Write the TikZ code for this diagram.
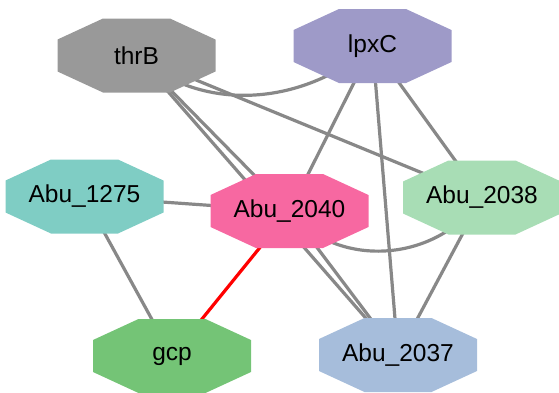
\documentclass[tikz,border=0pt]{standalone}
\usepackage{fontspec}
\setmainfont{Liberation Sans}
\usetikzlibrary{backgrounds}
\definecolor{cthrB}{HTML}{999999}
\definecolor{clpxC}{HTML}{9E9AC8}
\definecolor{cA1275}{HTML}{7FCDC4}
\definecolor{cA2040}{HTML}{F768A1}
\definecolor{cA2038}{HTML}{A8DDB5}
\definecolor{cA2037}{HTML}{A6BDDB}
\definecolor{cgcp}{HTML}{74C476}
\definecolor{cedge}{HTML}{888888}
\newcommand\octnode[5]{%
  \begin{scope}[shift={(#2,#3)}]
    \fill[#4] (-33.5,-37) -- (33.5,-37) -- (79,-16) -- (79,16) -- (33.5,37) -- (-33.5,37) -- (-79,16) -- (-79,-16) -- cycle;
  \end{scope}
  \node[lbl] (#1) at (#2,#3) {#5};}
\begin{document}
\begin{tikzpicture}[x=1pt,y=-1pt,
  lbl/.style={inner sep=0pt,font=\fontsize{24.5}{29}\selectfont,text=black},
  edge/.style={draw=cedge,line width=3.2pt},
  redge/.style={draw=red,line width=3.2pt}]
\useasboundingbox (0,0) rectangle (559,392);
\octnode{thrB}{136.5}{55.5}{cthrB}{thrB}
\octnode{lpxC}{372.5}{46}{clpxC}{lpxC}
\octnode{A1275}{84.5}{196.5}{cA1275}{Abu\_1275}
\octnode{A2040}{289.5}{211}{cA2040}{Abu\_2040}
\octnode{A2038}{482}{197.5}{cA2038}{Abu\_2038}
\octnode{A2037}{398}{355}{cA2037}{Abu\_2037}
\octnode{gcp}{172}{356}{cgcp}{gcp}
\begin{scope}[on background layer]
\draw[edge] (thrB.center) .. controls (200,112) and (300,108) .. (lpxC.center);
\draw[edge] (thrB.center) -- (A2038.center);
\draw[edge] (thrB.center) -- (A2040.center);
\draw[edge] (thrB.center) -- (A2037.center);
\draw[edge] (lpxC.center) -- (A2040.center);
\draw[edge] (lpxC.center) -- (A2037.center);
\draw[edge] (lpxC.center) -- (A2038.center);
\draw[edge] (A1275.center) -- (A2040.center);
\draw[edge] (A1275.center) -- (gcp.center);
\draw[redge] (A2040.center) -- (gcp.center);
\draw[edge] (A2040.center) .. controls (335,268) and (435,265) .. (A2038.center);
\draw[edge] (A2040.center) -- (A2037.center);
\draw[edge] (A2038.center) -- (A2037.center);
\end{scope}
\end{tikzpicture}
\end{document}
